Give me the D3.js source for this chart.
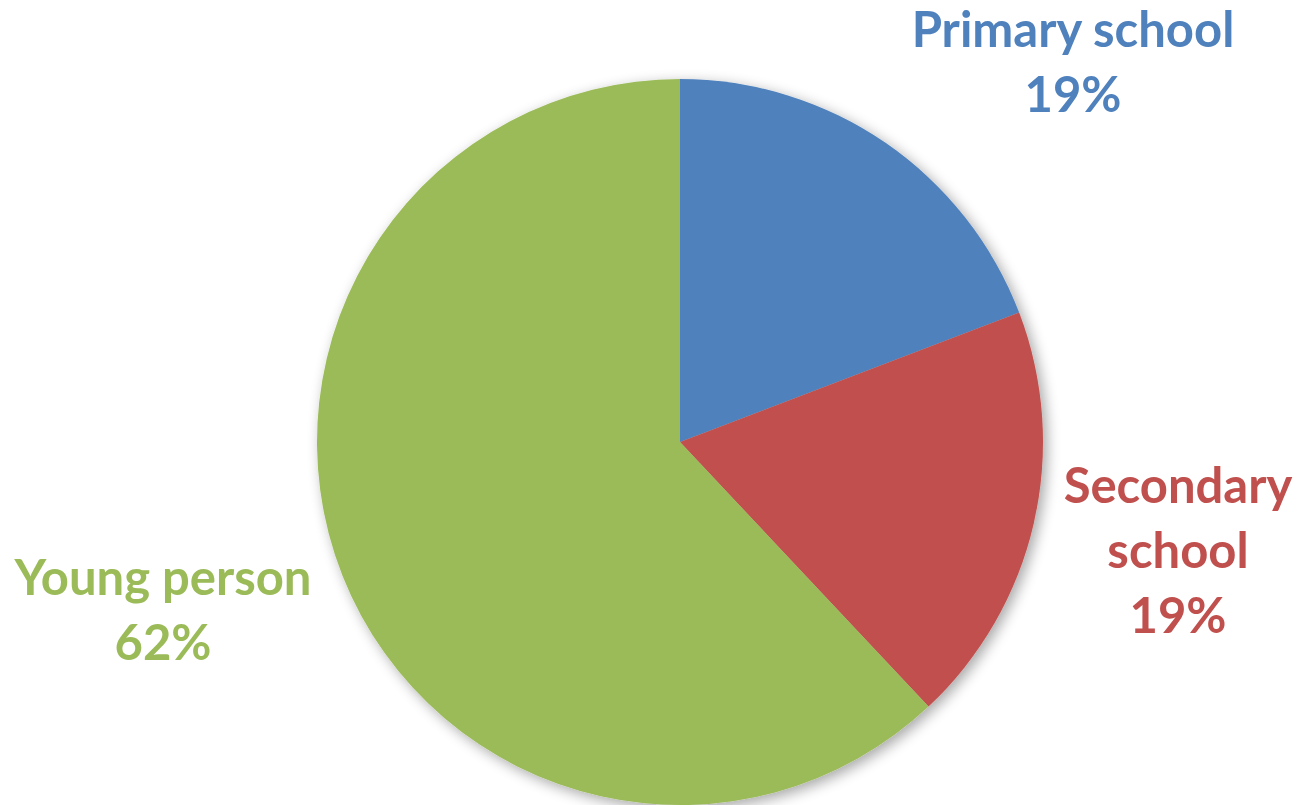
<!DOCTYPE html>
<html>
<head>
<meta charset="utf-8">
<script src="https://cdn.jsdelivr.net/npm/d3@7"></script>
<style>
  body { margin: 0; background: #fff; }
  svg { display: block; }
</style>
</head>
<body>
<main></main>
<script>
// chart data
let categories = ["Primary school", "Secondary school", "Young person"]
let shares = [19.2, 18.8, 62.0]
let pctLabels = ["19%", "19%", "62%"]
let labelLines = [["Primary school"], ["Secondary", "school"], ["Young person"]]
let colors = ["#4F81BD", "#C0504D", "#9BBB59"]

let width = 1299, height = 805
let cx = 680, cy = 442, radius = 363

let svg = d3.select('main')
    .append('svg')
    .attr('width', width)
    .attr('height', height)

//soft shadow behind the pie
let defs = svg.append('defs')
let filt = defs.append('filter')
    .attr('id', 'shadow')
    .attr('x', '-10%').attr('y', '-10%')
    .attr('width', '120%').attr('height', '120%')
filt.append('feGaussianBlur').attr('in', 'SourceAlpha').attr('stdDeviation', 7)
filt.append('feOffset').attr('dx', 4).attr('dy', 4).attr('result', 'off')
filt.append('feComponentTransfer').append('feFuncA').attr('type', 'linear').attr('slope', 0.35)
let merge = filt.append('feMerge')
merge.append('feMergeNode')
merge.append('feMergeNode').attr('in', 'SourceGraphic')

let color = d3.scaleOrdinal().domain(categories).range(colors)

let pie = d3.pie().sort(null).value(d => d.value)
let arcs = pie(categories.map((c, i) => ({ name: c, value: shares[i] })))
let arc = d3.arc().innerRadius(0).outerRadius(radius)

let g = svg.append('g')
    .attr('transform', `translate(${cx},${cy})`)

g.append('g')
    .attr('filter', 'url(#shadow)')
  .selectAll('path')
  .data(arcs)
  .join('path')
    .attr('d', arc)
    .style('fill', d => color(d.data.name))
    .style('stroke', 'none')

//labels: center x, first baseline
let labelPos = [[1073, 47], [1178, 503], [163, 595]]
let lineGap = 65
let fontSize = 49

let labels = svg.append('g')
    .style('font-family', 'Lato, "Open Sans", sans-serif')
    .style('font-weight', 'bold')
    .style('font-size', fontSize + 'px')

categories.forEach((c, i) => {
  let lines = labelLines[i].concat([pctLabels[i]])
  let t = labels.append('text')
      .attr('text-anchor', 'middle')
      .style('fill', color(c))
  lines.forEach((ln, j) => {
    t.append('tspan')
        .attr('x', labelPos[i][0])
        .attr('y', labelPos[i][1] + j * lineGap)
        .text(ln)
  })
})
</script>
</body>
</html>
